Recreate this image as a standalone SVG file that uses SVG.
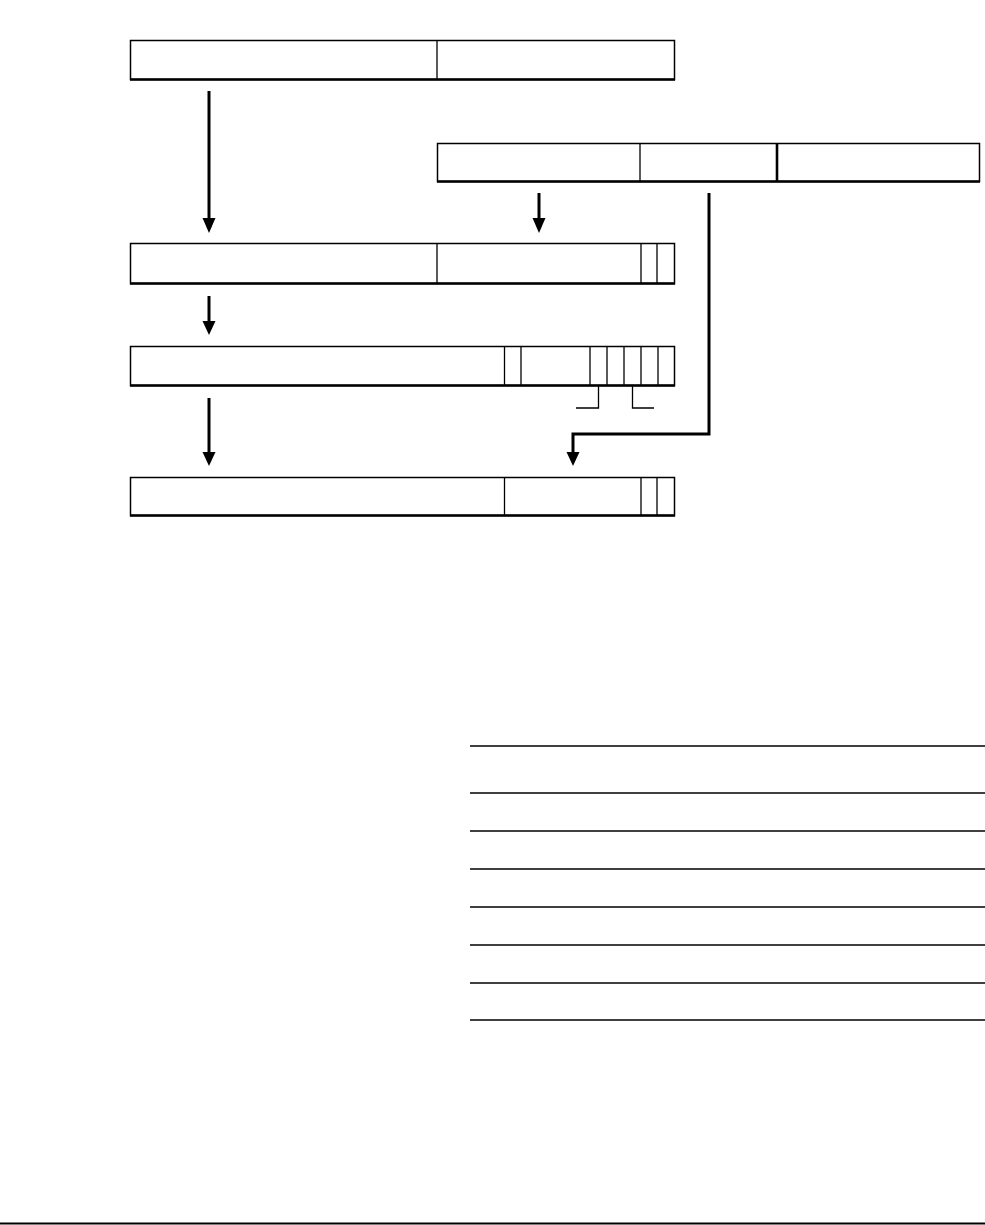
<svg xmlns="http://www.w3.org/2000/svg" width="985" height="1225" viewBox="0 0 985 1225">
<style>
.box{fill:#fff;stroke:#000;stroke-width:1.5}
.div{stroke:#000;stroke-width:1.3}
.base{stroke:#000;stroke-width:2.6}
.con{fill:none;stroke:#000;stroke-width:3}
.head{fill:#000}
.thin{fill:none;stroke:#000;stroke-width:1.3}
.rule{stroke:#000;stroke-width:1.3}
</style>
<g id="box1">
<rect class="box" x="130.5" y="40.5" width="544" height="39"/>
<line class="div" x1="437" y1="40" x2="437" y2="80"/>
<line class="base" x1="130" y1="79.5" x2="675" y2="79.5"/>
</g>
<g id="box2">
<rect class="box" x="437.5" y="143.5" width="542" height="38"/>
<line class="div" x1="640" y1="143" x2="640" y2="182"/>
<line class="base" x1="777" y1="143" x2="777" y2="182"/>
<line class="base" x1="437" y1="181.5" x2="980" y2="181.5"/>
</g>
<g id="box3">
<rect class="box" x="130.5" y="243.5" width="544" height="40"/>
<line class="div" x1="437" y1="243" x2="437" y2="284"/>
<line class="div" x1="641" y1="243" x2="641" y2="284"/>
<line class="div" x1="657" y1="243" x2="657" y2="284"/>
<line class="base" x1="130" y1="283.5" x2="675" y2="283.5"/>
</g>
<g id="box4">
<rect class="box" x="130.5" y="346.5" width="544" height="39"/>
<line class="div" x1="504.5" y1="346" x2="504.5" y2="386"/>
<line class="div" x1="521" y1="346" x2="521" y2="386"/>
<line class="div" x1="590" y1="346" x2="590" y2="386"/>
<line class="div" x1="607" y1="346" x2="607" y2="386"/>
<line class="div" x1="624" y1="346" x2="624" y2="386"/>
<line class="div" x1="641" y1="346" x2="641" y2="386"/>
<line class="div" x1="658" y1="346" x2="658" y2="386"/>
<line class="base" x1="130" y1="385.5" x2="675" y2="385.5"/>
<polyline class="thin" points="598.5,386 598.5,408 576,408"/>
<polyline class="thin" points="632.5,386 632.5,408 654,408"/>
</g>
<g id="box5">
<rect class="box" x="130.5" y="477.5" width="544" height="38"/>
<line class="div" x1="504.5" y1="477" x2="504.5" y2="516"/>
<line class="div" x1="641" y1="477" x2="641" y2="516"/>
<line class="div" x1="657" y1="477" x2="657" y2="516"/>
<line class="base" x1="130" y1="515.5" x2="675" y2="515.5"/>
</g>
<g id="connectors">
<line class="con" x1="209" y1="91" x2="209" y2="220"/>
<polygon class="head" points="202.5,218 215.5,218 209,233"/>
<line class="con" x1="539" y1="193" x2="539" y2="220"/>
<polygon class="head" points="532.5,218 545.5,218 539,233"/>
<line class="con" x1="209" y1="296" x2="209" y2="322"/>
<polygon class="head" points="202.5,321 215.5,321 209,335"/>
<line class="con" x1="209" y1="398" x2="209" y2="454"/>
<polygon class="head" points="202.5,452 215.5,452 209,466"/>
<polyline class="con" points="709,193 709,434 573,434 573,454"/>
<polygon class="head" points="566.5,452 579.5,452 573,466"/>
</g>
<g id="table">
<line class="rule" x1="470" y1="746" x2="985" y2="746"/>
<line class="rule" x1="470" y1="793" x2="985" y2="793"/>
<line class="rule" x1="470" y1="831" x2="985" y2="831"/>
<line class="rule" x1="470" y1="869" x2="985" y2="869"/>
<line class="rule" x1="470" y1="907" x2="985" y2="907"/>
<line class="rule" x1="470" y1="945" x2="985" y2="945"/>
<line class="rule" x1="470" y1="983" x2="985" y2="983"/>
<line class="rule" x1="470" y1="1020" x2="985" y2="1020"/>
</g>
<line x1="0" y1="1223.5" x2="985" y2="1223.5" stroke="#000" stroke-width="2"/>
</svg>
